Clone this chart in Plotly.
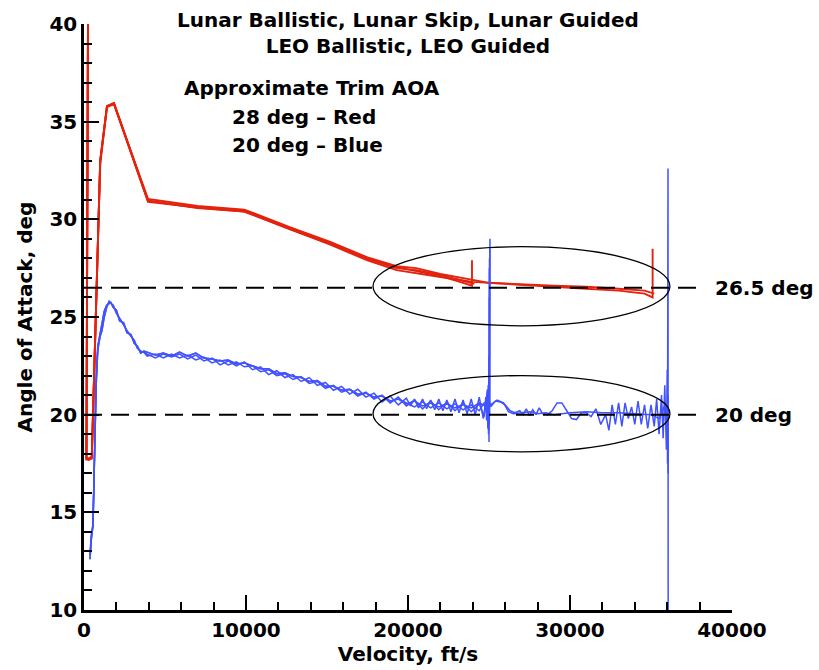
import plotly.graph_objects as go

# ---------------- data ----------------
red_lunar_1_v = [35100, 35100, 34600, 33000, 31000, 29000, 27000, 25000, 24000, 22000, 20500, 19300, 17500, 15200, 12700, 9900, 7000, 3950, 1850, 1420, 1000, 700, 480, 300, 150, 250]
red_lunar_1_a = [28.5, 26.0, 26.2, 26.35, 26.45, 26.55, 26.62, 26.72, 26.8, 27.05, 27.25, 27.4, 27.9, 28.7, 29.5, 30.4, 30.6, 30.95, 35.95, 35.8, 33.0, 24.0, 17.8, 17.7, 17.75, 41.0]

red_lunar_2_v = [35200, 34600, 33000, 31000, 29000, 27000, 25000, 24000, 22000, 20500, 19300, 17500, 15200, 12700, 9900, 7000, 3950, 1850, 1420, 1000, 700, 480, 300, 150, 250]
red_lunar_2_a = [26.2, 26.35, 26.45, 26.55, 26.6, 26.68, 26.75, 26.9, 27.2, 27.5, 27.6, 28.05, 28.85, 29.6, 30.5, 30.68, 31.05, 35.9, 35.75, 32.8, 23.5, 17.85, 17.75, 17.8, 41.0]

red_leo_1_v = [23950, 23950, 23000, 22000, 20500, 19300, 17500, 15200, 12700, 9900, 7000, 3950, 1850, 1420, 1000, 700, 480, 300, 150, 250]
red_leo_1_a = [27.9, 26.6, 26.85, 27.1, 27.35, 27.55, 28.0, 28.8, 29.55, 30.45, 30.62, 30.9, 35.9, 35.8, 33.0, 24.0, 17.75, 17.7, 17.7, 41.0]

red_leo_2_v = [24100, 23000, 22000, 20500, 19300, 17500, 15200, 12700, 9900, 7000, 3950, 1850, 1420, 1000, 700, 480, 300, 150, 250]
red_leo_2_a = [26.7, 26.95, 27.15, 27.4, 27.5, 27.95, 28.75, 29.5, 30.4, 30.58, 30.95, 35.95, 35.8, 33.0, 24.0, 17.8, 17.7, 17.75, 41.0]

blue_low_v = [370, 450, 555, 650, 750, 850, 990, 1110, 1250, 1400, 1550, 1650, 1800, 2000, 2200, 2450, 2650, 2900, 3100, 3300, 3500, 3700]
blue_low_a_A = [12.6, 13.6, 14.3, 17.5, 21.5, 23.3, 24.0, 24.3, 25.0, 25.5, 25.8, 25.7, 25.6, 25.2, 24.95, 24.6, 24.3, 24.0, 23.8, 23.4, 23.25, 23.2]
blue_low_a_B = [12.8, 13.8, 14.4, 17.8, 21.8, 23.5, 24.2, 24.6, 25.3, 25.6, 25.7, 25.75, 25.5, 25.35, 24.8, 24.7, 24.2, 24.1, 23.65, 23.5, 23.15, 23.25]

blue_mid_v = [3900, 4400, 4900, 5400, 5900, 6400, 6900, 7400, 7900, 8400, 8900, 9400, 9900, 10400, 10900, 11400, 11900, 12400, 12900, 13400, 13900, 14400, 14900, 15400, 15900, 16400, 16900, 17400, 17900, 18400, 18900, 19400]
blue_mid_a_A = [23.1, 22.9, 23.1, 22.95, 23.1, 22.85, 23.05, 22.75, 22.9, 22.55, 22.75, 22.5, 22.7, 22.3, 22.45, 22.05, 22.25, 21.9, 22.05, 21.7, 21.9, 21.5, 21.65, 21.25, 21.45, 21.05, 21.3, 20.9, 21.1, 20.65, 20.95, 20.5]
blue_mid_a_B = [23.2, 23.05, 23.15, 23.0, 23.2, 23.0, 23.15, 22.9, 22.85, 22.75, 22.8, 22.6, 22.65, 22.5, 22.35, 22.35, 22.1, 22.15, 21.95, 21.9, 21.7, 21.75, 21.45, 21.45, 21.25, 21.3, 21.05, 21.1, 20.9, 20.95, 20.7, 20.8]
blue_mid_a_C = [23.0, 23.1, 22.9, 23.1, 22.9, 23.05, 22.8, 22.95, 22.65, 22.8, 22.55, 22.7, 22.45, 22.5, 22.2, 22.3, 22.0, 22.1, 21.8, 21.95, 21.6, 21.7, 21.35, 21.5, 21.15, 21.3, 20.95, 21.15, 20.8, 21.0, 20.6, 20.9]

blue_hi_v_A = [19900, 20150, 20400, 20650, 20900, 21150, 21400, 21650, 21900, 22150, 22400, 22650, 22900, 23150, 23400, 23650, 23900, 24150, 24400, 24650, 24900, 25100, 25400, 25700, 26000, 26300, 26600, 26900, 27100, 27300, 27500, 27700, 27900, 28100, 28300, 28600, 28900, 29200, 29500, 29800, 30100, 30400, 30700, 31000, 31300, 31600, 31900, 32200, 32400, 32600, 32800, 33000, 33200, 33400, 33600, 33800, 34000, 34200, 34400, 34600, 34800, 35000, 35200, 35350, 35500, 35650, 35750, 35850, 35950, 36000, 36020, 36050, 36060]
blue_hi_a_A = [20.85, 20.45, 20.8, 20.35, 20.8, 20.3, 20.75, 20.25, 20.8, 20.2, 20.75, 20.15, 20.8, 20.1, 20.75, 20.05, 20.8, 20.0, 20.9, 19.8, 21.2, 20.4, 20.7, 20.65, 20.5, 20.2, 20.1, 20.2, 20.0, 20.3, 19.95, 20.25, 20.0, 20.35, 20.05, 20.0, 20.2, 20.6, 20.6, 20.2, 19.8, 19.75, 20.1, 20.1, 19.9, 20.3, 19.5, 20.0, 19.2, 20.5, 19.5, 20.6, 19.4, 20.6, 19.8, 20.4, 19.5, 20.7, 19.5, 20.5, 19.3, 20.5, 19.4, 20.8, 19.0, 21.0, 18.8, 21.5, 18.2, 22.3, 17.5, 32.6, 9.0]

blue_hi_v_B = [19900, 20400, 20900, 21400, 21900, 22400, 22900, 23400, 23900, 24400, 24900, 25100, 25500, 25900, 26200, 26500, 27000, 27500, 28000, 28500, 29000, 30000, 31000, 32000, 33000, 34000, 35000, 35500, 35800, 36000, 36050, 36060]
blue_hi_a_B = [20.55, 20.7, 20.45, 20.6, 20.4, 20.55, 20.35, 20.5, 20.35, 20.6, 20.4, 20.5, 20.75, 20.6, 20.15, 20.05, 20.1, 20.15, 20.05, 20.1, 20.0, 20.1, 20.15, 20.1, 20.1, 20.05, 20.0, 19.8, 20.4, 19.5, 21.0, 17.0]

blue_hi_v_C = [19900, 20400, 20900, 21400, 21900, 22400, 22900, 23400, 23900, 24400, 24700, 24800, 24850, 24900, 24930, 24950, 24970, 24990, 25000, 25010, 25020, 25030, 25040, 25050, 25060]
blue_hi_a_C = [20.45, 20.75, 20.3, 20.7, 20.25, 20.65, 20.2, 20.6, 20.15, 20.55, 19.9, 20.9, 19.7, 21.3, 19.3, 21.5, 19.0, 23.0, 18.6, 26.0, 19.5, 28.0, 20.5, 27.0, 29.0]

blue_hi_v_D = [19900, 20400, 20900, 21400, 21900, 22400, 22900, 23400, 23900, 24400, 24700, 24900, 24960, 24980, 25000, 25020, 25040, 25050]
blue_hi_a_D = [20.6, 20.4, 20.65, 20.35, 20.6, 20.3, 20.55, 20.25, 20.5, 20.2, 20.6, 20.4, 19.3, 22.0, 19.2, 27.5, 20.0, 28.5]

trim_red = 26.5
trim_blue = 20.0
trim_line_end = 38000
ellipse_v = [17840, 36170]
ellipse_red = [24.55, 28.6]
ellipse_blue = [18.1, 22.0]

x_ticks = [0, 10000, 20000, 30000, 40000]
y_ticks = [10, 15, 20, 25, 30, 35, 40]

RED = "#e4230f"
BLUE = "#4152ff"
FONT = "DejaVu Sans, Liberation Sans, Arial, sans-serif"

fig = go.Figure()

red_lines = [
    (red_lunar_1_v, red_lunar_1_a),
    (red_lunar_2_v, red_lunar_2_a),
    (red_leo_1_v, red_leo_1_a),
    (red_leo_2_v, red_leo_2_a),
]
for v, a in red_lines:
    fig.add_trace(go.Scatter(x=v, y=a, mode="lines", line=dict(color=RED, width=1.9),
                             showlegend=False, hoverinfo="skip"))

blue_lines = [
    (blue_low_v + blue_mid_v + blue_hi_v_A, blue_low_a_A + blue_mid_a_A + blue_hi_a_A),
    (blue_low_v + blue_mid_v + blue_hi_v_B, blue_low_a_B + blue_mid_a_B + blue_hi_a_B),
    (blue_low_v + blue_mid_v + blue_hi_v_C, blue_low_a_A + blue_mid_a_C + blue_hi_a_C),
    (blue_low_v + blue_mid_v + blue_hi_v_D, blue_low_a_B + blue_mid_a_B + blue_hi_a_D),
]
for v, a in blue_lines:
    fig.add_trace(go.Scatter(x=v, y=a, mode="lines", line=dict(color=BLUE, width=1.5),
                             showlegend=False, hoverinfo="skip"))

# trim reference lines
for yv in (trim_red, trim_blue):
    fig.add_shape(type="line", x0=0, x1=trim_line_end, y0=yv, y1=yv, xref="x", yref="y",
                  line=dict(color="black", width=2, dash="18px,9px"), layer="above")

# ellipses
for ys in (ellipse_red, ellipse_blue):
    fig.add_shape(type="circle", x0=ellipse_v[0], x1=ellipse_v[1], y0=ys[0], y1=ys[1],
                  xref="x", yref="y", line=dict(color="black", width=1.3), layer="above")

bold = dict(family=FONT, size=20, color="black", weight="bold")

ann = [
    dict(x=0.5, y=0.984, xref="paper", yref="paper",
         text="Lunar Ballistic, Lunar Skip, Lunar Guided<br>LEO Ballistic, LEO Guided",
         xanchor="center", yanchor="middle", align="center", borderpad=0),
    dict(x=14100, y=36.7, xref="x", yref="y", text="Approximate Trim AOA", xanchor="center", yanchor="middle"),
    dict(x=8990, y=35.25, xref="x", yref="y", text="28 deg – Red", xanchor="left", yanchor="middle"),
    dict(x=8990, y=33.8, xref="x", yref="y", text="20 deg – Blue", xanchor="left", yanchor="middle"),
    dict(x=38800, y=trim_red, xref="x", yref="y", text="26.5 deg", xanchor="left", yanchor="middle"),
    dict(x=38800, y=trim_blue, xref="x", yref="y", text="20 deg", xanchor="left", yanchor="middle"),
]
for a in ann:
    fig.add_annotation(showarrow=False, font=bold, **a)

fig.update_layout(
    width=819, height=670,
    margin=dict(l=84, r=87, t=19, b=58),
    paper_bgcolor="white", plot_bgcolor="white",
    font=dict(family=FONT, color="black"),
    xaxis=dict(
        range=[0, 40000], tickvals=x_ticks, ticktext=[str(t) for t in x_ticks],
        showgrid=False, zeroline=False, showline=True, linecolor="black", linewidth=2.5,
        ticks="inside", ticklen=15, tickwidth=2, tickcolor="black",
        minor=dict(dtick=2000, ticks="inside", ticklen=8, tickwidth=1.5, tickcolor="black", showgrid=False),
        tickfont=dict(family=FONT, size=20, color="black", weight="bold"),
        title=dict(text="Velocity, ft/s", font=dict(family=FONT, size=20, color="black", weight="bold"), standoff=2),
    ),
    yaxis=dict(
        range=[10, 40], tickvals=y_ticks, ticktext=[str(t) for t in y_ticks],
        showgrid=False, zeroline=False, showline=True, linecolor="black", linewidth=2.5,
        ticks="inside", ticklen=15, tickwidth=2, tickcolor="black",
        minor=dict(dtick=1, ticks="inside", ticklen=8, tickwidth=1.5, tickcolor="black", showgrid=False),
        tickfont=dict(family=FONT, size=20, color="black", weight="bold"),
        title=dict(text="Angle of Attack, deg", font=dict(family=FONT, size=20, color="black", weight="bold"), standoff=12),
    ),
)

fig.write_html("out.html")
